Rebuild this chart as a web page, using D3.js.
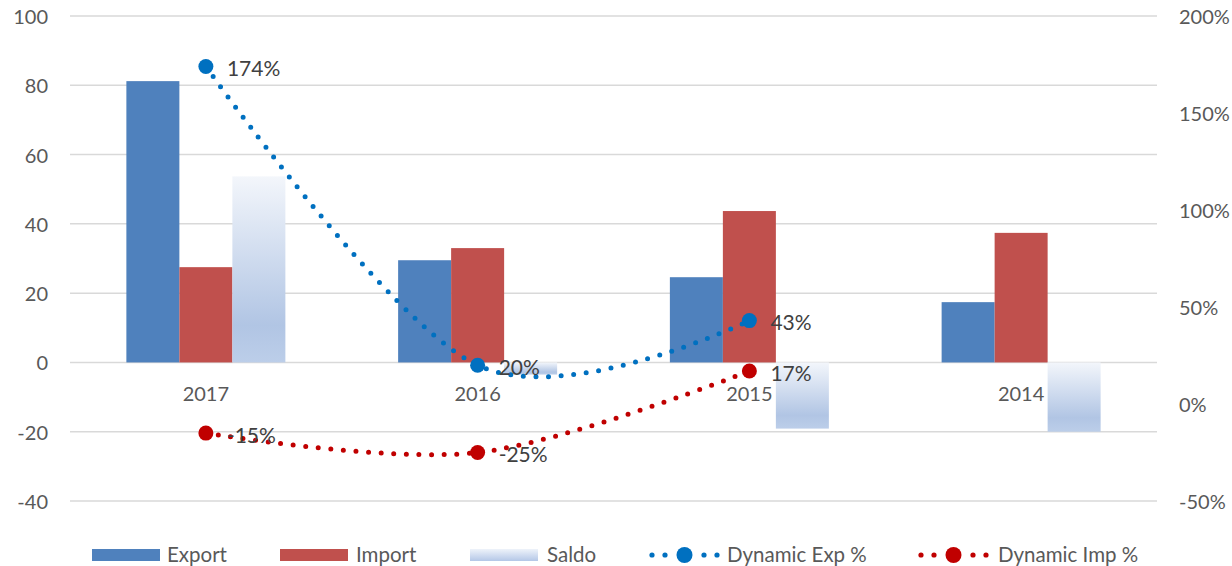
<!DOCTYPE html>
<html><head><meta charset="utf-8">
<script src="https://cdn.jsdelivr.net/npm/d3@7"></script>
<style>body{margin:0;background:#fff}svg{display:block;font-family:Lato,"Open Sans",sans-serif}</style>
</head><body><svg id="c" width="1232" height="566"></svg>
<script>
const categories = ["2017","2016","2015","2014"];
const exportVals = [81.2, 29.5, 24.6, 17.4];
const importVals = [27.5, 33.0, 43.7, 37.4];
const saldoVals  = [53.7, -3.5, -19.1, -20.0];
const dynExp = [1.74, 0.20, 0.43, null];
const dynImp = [-0.15, -0.25, 0.17, null];
const expLabels = ["174%","20%","43%",null];
const impLabels = ["-15%","-25%","17%",null];
const leftTicks = [-40,-20,0,20,40,60,80,100];
const rightTicks = [-0.5,0,0.5,1,1.5,2];

const svg = d3.select("#c");
const L = 70, R = 1157, T = 16, B = 501;
const yL = d3.scaleLinear().domain([-40,100]).range([B,T]);
const yR = d3.scaleLinear().domain([-0.5,2]).range([B,T]);
const x = d3.scaleBand().domain(categories).range([L,R]);
const series = ["Export","Import","Saldo"];
const groupW = 159;
const x1 = d3.scaleBand().domain(series).range([0,groupW]);

const defs = svg.append("defs");
const g = defs.append("linearGradient").attr("id","sg").attr("x1",0).attr("y1",0).attr("x2",0).attr("y2",1);
g.append("stop").attr("offset","0").attr("stop-color","#f3f6fb");
g.append("stop").attr("offset","0.8").attr("stop-color","#b1c5e4");
g.append("stop").attr("offset","1").attr("stop-color","#bccee9");
const gl = defs.append("linearGradient").attr("id","sgl").attr("x1",0).attr("y1",0).attr("x2",0).attr("y2",1);
gl.append("stop").attr("offset","0").attr("stop-color","#eef3fa");
gl.append("stop").attr("offset","1").attr("stop-color","#b4c7e7");

// gridlines
svg.append("g").selectAll("line").data(leftTicks).join("line")
  .attr("x1",L).attr("x2",R).attr("y1",d=>yL(d)).attr("y2",d=>yL(d))
  .attr("stroke","#d9d9d9").attr("stroke-width",1.5);

// left axis labels
svg.append("g").selectAll("text").data(leftTicks).join("text")
  .attr("x",48).attr("y",d=>yL(d)).attr("text-anchor","end").attr("dominant-baseline","central")
  .attr("fill","#595959").attr("font-size",20).text(d=>d);
// right axis labels
svg.append("g").selectAll("text").data(rightTicks).join("text")
  .attr("x",1179).attr("y",d=>yR(d)).attr("dominant-baseline","central")
  .attr("fill","#595959").attr("font-size",20).text(d=>Math.round(d*100)+"%");

// bars
const barData = [];
categories.forEach((c,i)=>{
  barData.push({c,s:"Export",v:exportVals[i]});
  barData.push({c,s:"Import",v:importVals[i]});
  barData.push({c,s:"Saldo",v:saldoVals[i]});
});
const fills = {Export:"#4f81bd",Import:"#c0504d",Saldo:"url(#sg)"};
svg.append("g").selectAll("rect").data(barData).join("rect")
  .attr("x",d=>x(d.c)+x.bandwidth()/2-groupW/2+x1(d.s))
  .attr("width",x1.bandwidth())
  .attr("y",d=>yL(Math.max(0,d.v)))
  .attr("height",d=>Math.abs(yL(d.v)-yL(0)))
  .attr("fill",d=>fills[d.s]);

// category labels
svg.append("g").selectAll("text").data(categories).join("text")
  .attr("x",d=>x(d)+x.bandwidth()/2).attr("y",yL(0)+31).attr("text-anchor","middle")
  .attr("dominant-baseline","central").attr("fill","#595959").attr("font-size",20).text(d=>d);

// lines
const cx = d=>x(d)+x.bandwidth()/2;
function drawLine(vals, labels, color){
  const pts = categories.map((c,i)=>({c,v:vals[i],l:labels[i]})).filter(d=>d.v!==null);
  const line = d3.line().x(d=>cx(d.c)).y(d=>yR(d.v)).curve(d3.curveCatmullRom.alpha(0));
  svg.append("path").datum(pts).attr("d",line).attr("fill","none").attr("stroke",color)
    .attr("stroke-width",5).attr("stroke-linecap","round").attr("stroke-dasharray","0 12.6");
  svg.append("g").selectAll("circle").data(pts).join("circle")
    .attr("cx",d=>cx(d.c)).attr("cy",d=>yR(d.v)).attr("r",7.5).attr("fill",color);
  svg.append("g").selectAll("text").data(pts).join("text")
    .attr("x",d=>cx(d.c)+21).attr("y",d=>yR(d.v)+1).attr("dominant-baseline","central")
    .attr("fill","#404040").attr("font-size",21).text(d=>d.l);
}
drawLine(dynExp, expLabels, "#0070c0");
drawLine(dynImp, impLabels, "#c00000");

// legend
const ly = 554;
const leg = svg.append("g");
const rects = [["Export","#4f81bd",92,167],["Import","#c0504d",280,356],["Saldo","url(#sgl)",470,547]];
rects.forEach(([t,f,x0,tx])=>{
  leg.append("rect").attr("x",x0).attr("y",ly-5).attr("width",68).attr("height",12).attr("fill",f);
  leg.append("text").attr("x",tx).attr("y",ly).attr("dominant-baseline","central").attr("fill","#595959").attr("font-size",20.5).text(t);
});
const lines = [["Dynamic Exp %","#0070c0",652,727],["Dynamic Imp %","#c00000",921,998]];
lines.forEach(([t,c,x0,tx])=>{
  [0,13,52,65].forEach(dx=>leg.append("circle").attr("cx",x0+dx).attr("cy",ly+1).attr("r",2.6).attr("fill",c));
  leg.append("circle").attr("cx",x0+32.5).attr("cy",ly+1).attr("r",8).attr("fill",c);
  leg.append("text").attr("x",tx).attr("y",ly).attr("dominant-baseline","central").attr("fill","#595959").attr("font-size",20.5).text(t);
});
</script></body></html>
